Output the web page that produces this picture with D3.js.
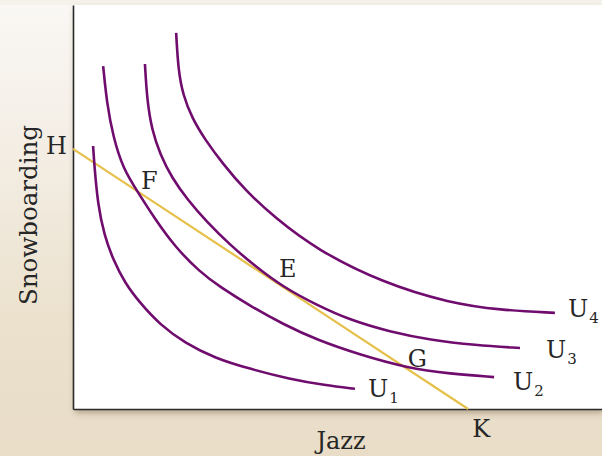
<!DOCTYPE html>
<html>
<head>
<meta charset="utf-8">
<script src="https://cdn.jsdelivr.net/npm/d3@7"></script>
<style>
  html, body { margin: 0; padding: 0; }
  body {
    width: 602px; height: 456px; overflow: hidden;
    background: linear-gradient(to bottom, #faf8f5 0%, #f3ede3 35%, #ebe1cd 70%, #e9ddc8 100%);
  }
  text { font-family: "DejaVu Serif", serif; fill: #262626; }
</style>
</head>
<body>
<div id="chart"></div>
<script>
// indifference curves (jazz, snowboarding)
const U1 = [[3.8, 65.1], [4.0, 60.9], [4.7, 50.5], [5.9, 43.1], [7.6, 36.9], [9.8, 31.2],
            [12.7, 26.2], [16.5, 20.8], [21.2, 16.3], [26.8, 12.6], [33.5, 9.9], [41.0, 7.4],
            [47.6, 5.9], [53.3, 5.0]];
const U2 = [[5.7, 84.9], [6.4, 75.7], [7.6, 67.3], [9.5, 59.4], [12.1, 54.0], [15.5, 47.0],
            [19.3, 40.1], [24.0, 33.9], [27.8, 30.2], [33.5, 25.5], [39.7, 21.0], [46.1, 17.1],
            [54.3, 13.4], [63.1, 10.2], [71.3, 8.7], [79.6, 7.9]];
const U3 = [[13.6, 85.4], [14.0, 76.5], [14.9, 69.1], [16.5, 62.9], [18.7, 57.2], [21.7, 51.7],
            [25.3, 46.3], [29.7, 40.6], [34.4, 35.4], [39.7, 30.2], [46.1, 25.7], [52.4, 22.0],
            [59.9, 19.1], [67.5, 17.1], [76.0, 15.8], [84.5, 15.1]];
const U4 = [[19.5, 93.1], [19.9, 83.9], [20.8, 77.7], [22.5, 72.0], [25.0, 66.6], [28.2, 60.9],
            [32.5, 54.2], [38.2, 47.3], [46.1, 39.4], [58.6, 31.2], [71.3, 26.2], [80.7, 24.5],
            [91.1, 23.8]];
const curveNames = ["1", "2", "3", "4"];

// budget line H -> K
const budget = [[0, 64.4], [74.7, 0]];
const pointNames = ["H", "F", "E", "G", "K"];
const pointValues = [[0, 64.4], [12.1, 54.0], [39.7, 30.1], [63.1, 10.0], [74.7, 0]];

const xTitle = "Jazz";
const yTitle = "Snowboarding";

const W = 602, H = 456;
const margin = { left: 73, top: 5, right: 0, bottom: 47 };

const x = d3.scaleLinear().domain([0, 100]).range([margin.left, W - margin.right]);
const y = d3.scaleLinear().domain([0, 100]).range([H - margin.bottom, margin.top]);

const svg = d3.select("#chart").append("svg").attr("width", W).attr("height", H);

const defs = svg.append("defs");
const f = defs.append("filter").attr("id", "shadow")
  .attr("x", "-5%").attr("y", "-5%").attr("width", "110%").attr("height", "115%");
f.append("feDropShadow").attr("dx", 2).attr("dy", 4).attr("stdDeviation", 3)
  .attr("flood-color", "#6b5a3a").attr("flood-opacity", 0.45);

// top strip
svg.append("rect").attr("x", 0).attr("y", 0).attr("width", W).attr("height", margin.top)
  .attr("fill", "#f5f2ec");

// white plot panel
svg.append("rect")
  .attr("x", x(0)).attr("y", y(100))
  .attr("width", x(100) - x(0)).attr("height", y(0) - y(100))
  .attr("fill", "#fff").attr("filter", "url(#shadow)");

// axes (lines only)
svg.append("g").attr("transform", `translate(${x(0)},0)`)
  .call(d3.axisLeft(y).tickValues([]).tickSizeOuter(0))
  .select(".domain").attr("stroke", "#2a2a2a").attr("stroke-width", 1.6);
svg.append("g").attr("transform", `translate(0,${y(0)})`)
  .call(d3.axisBottom(x).tickValues([]).tickSizeOuter(0))
  .select(".domain").attr("stroke", "#2a2a2a").attr("stroke-width", 1.6);

// basis smooths out the small reading errors
const line = d3.line().x(d => x(d[0])).y(d => y(d[1])).curve(d3.curveBasis);

// budget line
svg.append("path").attr("d", d3.line().x(d => x(d[0])).y(d => y(d[1]))(budget))
  .attr("fill", "none").attr("stroke", "#e6c04a").attr("stroke-width", 2.2);

// indifference curves
const curves = [U1, U2, U3, U4];
svg.selectAll("path.curve").data(curves).enter().append("path")
  .attr("class", "curve")
  .attr("d", line)
  .attr("fill", "none").attr("stroke", "#6f0c6e").attr("stroke-width", 2.6);

// curve labels U1..U4
const uOffset = [[13, 8], [19, 13], [26, 10], [13, 4]];
curves.forEach((c, i) => {
  const end = c[c.length - 1];
  const t = svg.append("text")
    .attr("x", x(end[0]) + uOffset[i][0]).attr("y", y(end[1]) + uOffset[i][1])
    .style("font-size", "24px");
  t.append("tspan").text("U");
  t.append("tspan").attr("dy", 6).attr("dx", 1).style("font-size", "15px").text(curveNames[i]);
});

// point labels
const pOffset = { H: [-6, 5, "end"], F: [4, -2, "start"], E: [-4, -10, "start"],
                  G: [1, -2, "start"], K: [4, 28, "start"] };
pointNames.forEach((n, i) => {
  const p = pointValues[i];
  svg.append("text")
    .attr("x", x(p[0]) + pOffset[n][0]).attr("y", y(p[1]) + pOffset[n][1])
    .attr("text-anchor", pOffset[n][2])
    .style("font-size", "24px").text(n);
});

// axis titles
svg.append("text").attr("x", 341).attr("y", 449).attr("text-anchor", "middle")
  .style("font-size", "24px").text(xTitle);
svg.append("text").attr("transform", "translate(37,215) rotate(-90)")
  .attr("text-anchor", "middle").style("font-size", "24.5px").text(yTitle);
</script>
</body>
</html>
